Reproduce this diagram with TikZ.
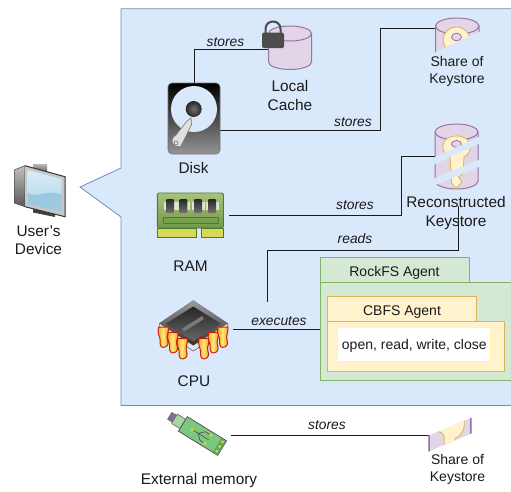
\documentclass[tikz,border=0pt]{standalone}
\usepackage{fontspec}
\setmainfont{Liberation Sans}
\usetikzlibrary{calc}
\definecolor{panelfill}{HTML}{DAE8FC}
\definecolor{panelline}{HTML}{6C8EBF}
\definecolor{greenfill}{HTML}{D5E8D4}
\definecolor{greenline}{HTML}{82B366}
\definecolor{yellowfill}{HTML}{FFF2CC}
\definecolor{yellowline}{HTML}{D6B656}
\definecolor{lilacfill}{HTML}{E1D5E7}
\definecolor{lilacline}{HTML}{9673A6}
\definecolor{inkc}{HTML}{1A1A1A}
\definecolor{ramtop}{HTML}{A9C27C}
\definecolor{rambot}{HTML}{6F9A48}
\definecolor{ramedge}{HTML}{4F7A2D}
\definecolor{ramgold}{HTML}{D8DA55}
\definecolor{pinred}{HTML}{C8200A}
\definecolor{pinorange}{HTML}{F39A1E}
\definecolor{pinyellow}{HTML}{FFE878}
\definecolor{usbgreen}{HTML}{7DC77F}
\definecolor{usbdark}{HTML}{5FA865}
\definecolor{usbneck}{HTML}{A5D6A0}
\definecolor{usbtip}{HTML}{7D6F95}
\definecolor{scrtop}{HTML}{D8ECF7}
\definecolor{scrbot}{HTML}{AFD5E8}
\definecolor{scrwave}{HTML}{9CC9E0}
\tikzset{
  x=1pt,y=-1pt,
  panelst/.style={draw=panelline,fill=panelfill,line width=0.8pt},
  iconbox/.style={inner sep=0pt,outer sep=0pt,rectangle},
  wire/.style={draw=inkc,line width=0.9pt},
  txt/.style={inner sep=0pt,text=inkc,align=center,font=\fontsize{15.4}{18.5}\selectfont},
  txts/.style={inner sep=0pt,text=inkc,align=center,font=\fontsize{14}{17}\selectfont},
  txtm/.style={inner sep=0pt,text=inkc,align=center,font=\fontsize{15.4}{18}\selectfont},
  lbl/.style={inner sep=0pt,text=inkc,font=\fontsize{13.8}{16}\selectfont\itshape},
  gbox/.style={draw=greenline,fill=greenfill,line width=0.8pt,inner sep=0pt,text=inkc,font=\fontsize{14}{17}\selectfont},
  ybox/.style={draw=yellowline,fill=yellowfill,line width=0.8pt,inner sep=0pt,text=inkc,font=\fontsize{14}{17}\selectfont},
  cyl/.style={draw=lilacline,fill=lilacfill,line width=1pt},
  keyst/.style={draw=yellowline,fill=yellowfill,line width=0.8pt},
  pinst/.style={draw=pinred,line width=1pt,left color=pinorange,right color=pinorange,middle color=pinyellow},
}
\begin{document}
\begin{tikzpicture}
\useasboundingbox (0,0) rectangle (511,491);
\fill[white] (0,0) rectangle (511,491);
% panel with callout
\path[panelst] (121,8.7) -- (514,8.7) -- (514,405.5) -- (121,405.5) -- (121,217) -- (80,187) -- (121,168) -- cycle;

% port boxes
\node[iconbox,minimum width=52pt,minimum height=71pt] (disk) at (194,118.5) {};
\node[iconbox,minimum width=43pt,minimum height=44pt] (cache) at (290,49) {};
\node[iconbox,minimum width=43.5pt,minimum height=20pt] (share) at (457.2,28) {};
\node[iconbox,minimum width=72pt,minimum height=44pt] (ram) at (193,215) {};
\node[iconbox,minimum width=43pt,minimum height=65pt] (recon) at (456.5,156.5) {};
\node[iconbox,minimum width=79pt,minimum height=60pt] (cpu) at (193.5,329.5) {};
\node[iconbox,minimum width=63pt,minimum height=40pt] (usb) at (199,435) {};
\node[iconbox,minimum width=42pt,minimum height=34pt] (share2) at (450,435) {};
\coordinate (reconout) at (458,206);
\coordinate (readend) at (267,302);

% agents
\node[gbox,minimum width=149pt,minimum height=25pt,text height=13.2pt,text depth=1pt] (rocktab) at (394.5,270.3) {RockFS Agent};
\node[gbox,minimum width=195pt,minimum height=97.5pt] (rockbody) at (417.5,331.4) {};
\node[ybox,minimum width=149.5pt,minimum height=24.6pt,text height=14.2pt,text depth=1pt] (cbfstab) at (402,309) {CBFS Agent};
\node[ybox,minimum width=177.5pt,minimum height=49.7pt] (cbfsbody) at (416,346.2) {};
\node[draw=yellowfill!80!yellow,fill=white,line width=0.8pt,inner sep=0pt,text=inkc,font=\fontsize{14}{17}\selectfont,minimum width=153pt,minimum height=33.7pt,text height=12.2pt,text depth=1pt] (calls) at (414.3,344.2) {open, read, write, close};

% connectors
\draw[wire] (disk.north) |- (cache.west);
\draw[wire] (disk.-25) -| (380,28) -- (share.west);
\draw[wire] (ram.east) -| (401.5,156.5) -- (recon.west);
\draw[wire] (reconout) -- (458,250.5) -| (readend);
\draw[wire] (cpu.east) -- (cpu.east -| rockbody.west);
\draw[wire] (usb.east) -- (share2.west);

% local cache cylinder
\path[cyl] (268.5,33.5) .. controls (268.5,29.3) and (278,26) .. (290,26) .. controls (302,26) and (311.5,29.3) .. (311.5,33.5) -- (311.5,62) .. controls (311.5,66.2) and (302,69.5) .. (290,69.5) .. controls (278,69.5) and (268.5,66.2) .. (268.5,62) -- cycle;
\draw[lilacline,line width=1pt] (268.5,33.5) .. controls (268.5,37.7) and (278,41) .. (290,41) .. controls (302,41) and (311.5,37.7) .. (311.5,33.5);
% lock
\draw[black!70,line width=2pt] (265.5,33) -- (265.5,29) .. controls (265.5,19) and (280.5,19) .. (280.5,29) -- (280.5,33);
\fill[black!70,rounded corners=1.5pt] (262,32.5) rectangle (284,48);

% share of keystore (top)
\begin{scope}
\clip (430,54.5) -- (485,29) -- (485,10) -- (430,10) -- cycle;
\path[cyl] (435.5,26) .. controls (435.5,21.6) and (445,18) .. (457,18) .. controls (469,18) and (479,21.6) .. (479,26) -- (479,66) -- (435.5,66) -- cycle;
\draw[lilacline,line width=1pt] (435.5,26) .. controls (435.5,30.4) and (445,34) .. (457,34) .. controls (469,34) and (479,30.4) .. (479,26);
\path[keyst] (456.5,40) ellipse [x radius=13.5,y radius=13];
\path[draw=lilacline,fill=lilacfill,line width=0.8pt] (456.5,37) ellipse [x radius=5,y radius=3.8];
\end{scope}

% reconstructed keystore
\path[cyl] (435,132) .. controls (435,127.6) and (445,124) .. (456.5,124) .. controls (468,124) and (478,127.6) .. (478,132) -- (478,181) .. controls (478,185.4) and (468,189) .. (456.5,189) .. controls (445,189) and (435,185.4) .. (435,181) -- cycle;
\draw[lilacline,line width=1pt] (435,132) .. controls (435,136.4) and (445,140) .. (456.5,140) .. controls (468,140) and (478,136.4) .. (478,132);
\path[keyst] (450,157) .. controls (440,153) and (439,136) .. (456.5,136) .. controls (474,136) and (473,153) .. (464,157)
  -- (463.5,167) -- (459.5,170) -- (463,174) -- (458.5,177) -- (462,182) -- (456,188.5) -- (451.5,183) -- (451,170) -- cycle;
\path[draw=lilacline,fill=lilacfill,line width=0.8pt] (456.5,144) ellipse [x radius=5,y radius=3.5];
\fill[panelfill] (433,158) -- (481,136) -- (481,143) -- (433,165) -- cycle;
\fill[panelfill] (433,179) -- (481,159) -- (481,166) -- (433,186) -- cycle;

% share of keystore (bottom)
\begin{scope}
\clip (428.3,435.7) -- (471.7,417.7) -- (471.7,433.3) -- (428.3,451.7) -- cycle;
\fill[lilacfill] (428,417) rectangle (472,452);
\path[keyst] (437,431) .. controls (441,433) and (444.3,433) .. (444.3,437) -- (444.3,450) -- (455,450) -- (455,438.5) .. controls (461,436) and (464.3,430) .. (464.3,425) -- (464.3,410) -- (437,410) -- cycle;
\draw[lilacline,line width=1.6pt] (428.8,435) -- (428.8,452) (471.2,417) -- (471.2,434);
\end{scope}

% disk icon
\shade[top color=black,bottom color=black!42,rounded corners=4pt,draw=black!55,line width=0.6pt] (168,83) rectangle (220,154);
\fill[panelfill] (194,109) circle [radius=23];
\shade[inner color=black!55,outer color=black!85] (193.7,109) circle [radius=8];
\path[draw=black!50,fill=black!12,line width=0.7pt] (187,121) -- (191,118) -- (191.5,124.5) -- (181,146) .. controls (178,148) and (172,146) .. (172,141) .. controls (172,138) and (174,136) .. (176,135) -- cycle;
\path[draw=black!60,fill=panelfill,line width=0.6pt] (176,143) circle [radius=2];

% RAM icon
\shade[top color=ramtop,bottom color=rambot,draw=ramedge,line width=0.9pt,rounded corners=1.5pt] (157.3,193) rectangle (223.5,228);
\foreach \cx in {170,183.3,198,212.2}{
  \fill[ramtop!40!white] (\cx-6.5,202) rectangle (\cx+6.5,210);
  \shade[top color=black!85,bottom color=black!55,rounded corners=1pt] (\cx-4,199) rectangle (\cx+4,213);
}
\path[draw=ramedge,fill=rambot!90!ramtop,line width=0.8pt] (163,217.5) rectangle (218,223.2);
\path[draw=ramedge,fill=ramgold,line width=0.6pt] (157.3,228.5) rectangle (196.7,237.5);
\path[draw=ramedge,fill=ramgold,line width=0.6pt] (201,228.5) rectangle (223.5,237.5);

% CPU icon
\path[draw=black!60,fill=black!10,line width=0.6pt] (159.3,323.5) -- (159.3,329) -- (193.3,351) -- (227.7,329) -- (227.7,323.5) -- (193.3,300.7) -- cycle;
\shade[top color=black!40,bottom color=black!80] (159.3,323.5) -- (193.3,300.7) -- (227.7,323.5) -- (193.3,345.5) -- cycle;
\shade[top color=black!85,bottom color=black!60] (193.3,306.5) -- (221,323.8) -- (193.3,341) -- (165.5,323.8) -- cycle;
\draw[black!52,line width=3.5pt] (183,330) -- (203,317.5);
\foreach \px/\py in {163.5/337,173/342.5,182.5/348.5,204/348.5,213.5/342.5,223/337}{
  \path[pinst,shift={(\px,\py)},scale=1.1] (-4.5,-9) -- (4.5,-9) .. controls (5,-4) and (2.5,-2) .. (3.5,2) .. controls (5,6) and (4,9) .. (0,9.5) .. controls (-3,9.5) and (-3.5,6) .. (-3,3) .. controls (-3,0) and (-6,-3) .. (-4.5,-9) -- cycle;
}

% USB stick
\begin{scope}[shift={(202.5,436)},rotate=-31.6]
\path[draw=black!60,fill=usbtip,line width=0.6pt] (-38.5,-4) rectangle (-33,4);
\path[draw=black!60,fill=usbneck,line width=0.6pt] (-33,-5.5) rectangle (-23,5.5);
\path[draw=black!65,fill=usbgreen,line width=0.8pt] (-23,-8.5) rectangle (23,8.5);
\fill[usbdark] (17,-8) rectangle (22.6,8);
\foreach \dy in {-5.5,0,5.5}{\fill[yellow!90!black] (20,\dy) circle [radius=1.5];}
\draw[black!70,line width=0.6pt] (-11,0) -- (7,0) (-5,0) -- (0,-5) -- (5,-5) (-5,0) -- (0,5) -- (4,5);
\fill[yellow!90!black] (-12,0) circle [radius=1.5] (7,-5) circle [radius=1.5] (6,5) circle [radius=1.5];
\end{scope}

% user's device
\shade[top color=black!25,bottom color=black!65,draw=black!70,line width=0.6pt] (14.3,170) -- (25,165.7) -- (25,206.7) -- (14.3,203) -- cycle;
\shade[top color=black!30,bottom color=black!60] (33,164.5) -- (47,164.5) -- (47,172) -- (33,172) -- cycle;
\fill[black!75] (33,209) -- (55,213.5) -- (55,217) -- (33,212.5) -- cycle;
\fill[black!22] (25,165.7) -- (65,176.7) -- (65,216.7) -- (25,206.7) -- cycle;
\draw[black!80,line width=1pt] (25,165.7) -- (65,176.7) -- (65,216.7) -- (25,206.7);
\shade[top color=scrtop,bottom color=scrbot] (27.7,170) -- (61.7,179) -- (61.7,211.7) -- (27.7,204) -- cycle;
\fill[scrwave] (27.7,193) .. controls (38,199) and (48,188) .. (61.7,195) -- (61.7,211.7) -- (27.7,204) -- cycle;

% labels
\node[lbl] (l1) at (225.5,42.5) {stores};
\node[lbl] (l2) at (353,122.5) {stores};
\node[lbl] (l3) at (355,205.5) {stores};
\node[lbl] (l4) at (355,238.5) {reads};
\node[lbl] (l5) at (279,321.5) {executes};
\node[lbl] (l6) at (327,425.5) {stores};
\node[txt] (t1) at (290,95.5) {Local\\Cache};
\node[txts] (t2) at (457,71) {Share of\\Keystore};
\node[txt] (t3) at (193.5,168) {Disk};
\node[txt] (t4) at (456,213) {Reconstructed\\Keystore};
\node[txt] (t5) at (190.5,266) {RAM};
\node[txt] (t6) at (194,381.5) {CPU};
\node[txtm] (t7) at (38.5,240.5) {User's\\Device};
\node[txtm] (t8) at (199,481) {External memory};
\node[txts] (t9) at (457.5,469.5) {Share of\\Keystore};
\end{tikzpicture}
\end{document}
